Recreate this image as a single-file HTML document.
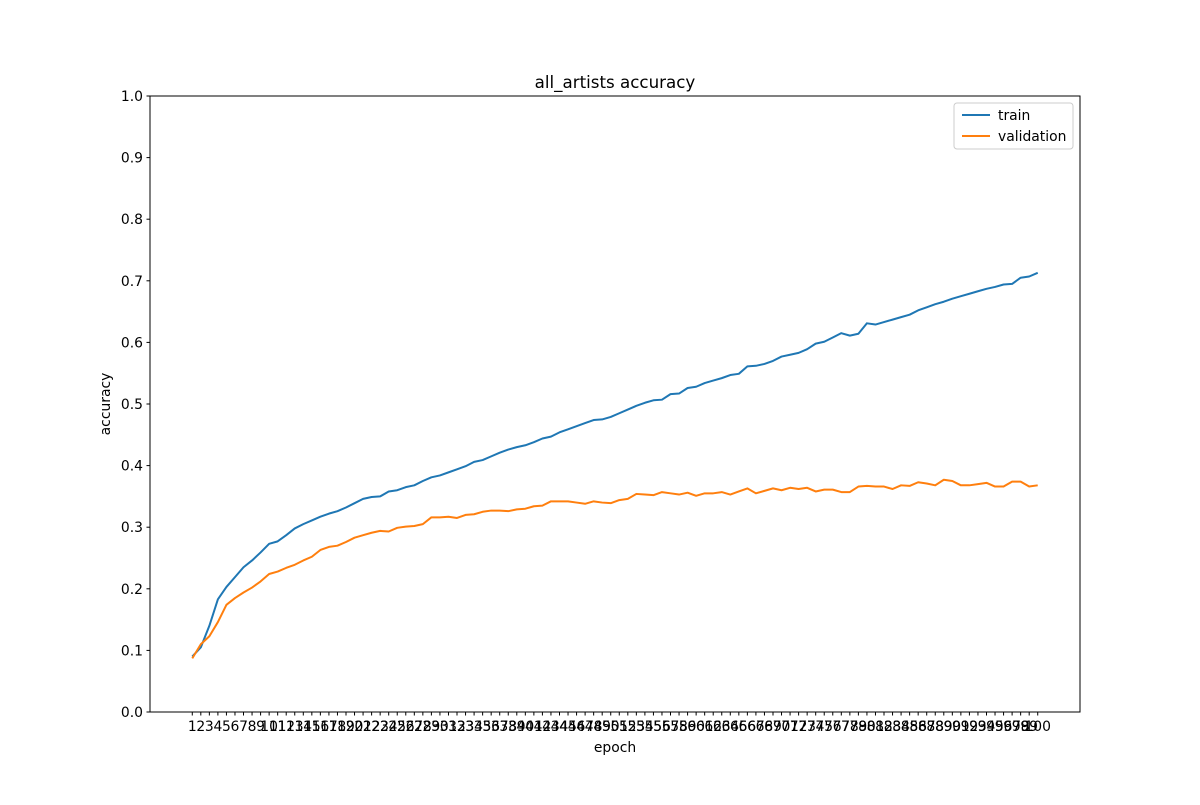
<!DOCTYPE html>
<html><head><meta charset="utf-8"><style>
html,body{margin:0;background:#fff}
svg text{font-family:"DejaVu Sans","Liberation Sans",sans-serif;font-size:13.9px;fill:#000}
</style></head><body>
<svg id="c" width="1200" height="800" xmlns="http://www.w3.org/2000/svg">
<rect width="1200" height="800" fill="#fff"/>
<text x="615" y="88" text-anchor="middle" style="font-size:16.7px">all_artists accuracy</text>
<g id="grid"></g>
<rect x="150" y="96" width="930" height="616" fill="none" stroke="#000" stroke-width="1"/>
<text x="615" y="752" text-anchor="middle">epoch</text>
<text transform="translate(110,404) rotate(-90)" text-anchor="middle">accuracy</text>
<g>
<rect x="954" y="103" width="119" height="46" rx="3" fill="#fff" stroke="#ccc"/>
<line x1="962" y1="115" x2="990" y2="115" stroke="#1f77b4" stroke-width="2"/>
<text x="998" y="120">train</text>
<line x1="962" y1="136" x2="990" y2="136" stroke="#ff7f0e" stroke-width="2"/>
<text x="998" y="141">validation</text>
</g>
</svg>
<script>
const epochs = Array.from({length:100},(_,i)=>String(i+1));
const yTicks = [0,0.1,0.2,0.3,0.4,0.5,0.6,0.7,0.8,0.9,1.0];
const trainAcc = [0.09,0.105,0.14,0.183,0.203,0.219,0.235,0.246,0.259,0.273,0.277,0.287,0.298,0.305,0.311,0.317,0.322,0.326,0.332,0.339,0.346,0.349,0.350,0.358,0.360,0.365,0.368,0.375,0.381,0.384,0.389,0.394,0.399,0.406,0.409,0.415,0.421,0.426,0.430,0.433,0.438,0.444,0.447,0.454,0.459,0.464,0.469,0.474,0.475,0.479,0.485,0.491,0.497,0.502,0.506,0.507,0.516,0.517,0.526,0.528,0.534,0.538,0.542,0.547,0.549,0.561,0.562,0.565,0.570,0.577,0.580,0.583,0.589,0.598,0.601,0.608,0.615,0.611,0.614,0.631,0.629,0.633,0.637,0.641,0.645,0.652,0.657,0.662,0.666,0.671,0.675,0.679,0.683,0.687,0.690,0.694,0.695,0.705,0.707,0.713];
const valAcc = [0.087,0.11,0.123,0.146,0.174,0.185,0.194,0.202,0.212,0.224,0.228,0.234,0.239,0.246,0.252,0.263,0.268,0.270,0.276,0.283,0.287,0.291,0.294,0.293,0.299,0.301,0.302,0.305,0.316,0.316,0.317,0.315,0.320,0.321,0.325,0.327,0.327,0.326,0.329,0.330,0.334,0.335,0.342,0.342,0.342,0.340,0.338,0.342,0.340,0.339,0.344,0.346,0.354,0.353,0.352,0.357,0.355,0.353,0.356,0.351,0.355,0.355,0.357,0.353,0.358,0.363,0.355,0.359,0.363,0.360,0.364,0.362,0.364,0.358,0.361,0.361,0.357,0.357,0.366,0.367,0.366,0.366,0.362,0.368,0.367,0.373,0.371,0.368,0.377,0.375,0.368,0.368,0.370,0.372,0.366,0.366,0.374,0.374,0.366,0.368];

const L=150,R=1080,T=96,B=712;
const n=epochs.length;
const step=(R-L)/((n-1)*1.1);
const xs=i=>L+(n-1)*0.05*step+i*step;
const ys=v=>B-(v-0)/(1-0)*(B-T);
const NS='http://www.w3.org/2000/svg';
const g=document.getElementById('grid');
function mk(tag,attrs){const e=document.createElementNS(NS,tag);for(const k in attrs)e.setAttribute(k,attrs[k]);return e;}
yTicks.forEach(v=>{
  const y=ys(v);
  const t=mk('line',{x1:L-3.5,x2:L,y1:y,y2:y,stroke:'#000'});
  
  
  g.appendChild(t);
  const lb=mk('text',{x:L-7,y:y+5,'text-anchor':'end'});
  lb.textContent=v.toFixed(1);
  
  
  g.appendChild(lb);
});
epochs.forEach((e,i)=>{
  const x=xs(i);
  const t=mk('line',{x1:x,x2:x,y1:B,y2:B+3.5,stroke:'#000'});
  
  
  g.appendChild(t);
  const lb=mk('text',{x:x,y:B+19,'text-anchor':'middle'});
  lb.textContent=e;
  
  
  g.appendChild(lb);
});
function line(data,color,name){
  const p=mk('polyline',{points:data.map((v,i)=>xs(i)+','+ys(v)).join(' '),fill:'none',stroke:color,'stroke-width':2,'stroke-linejoin':'round'});
  
  
  g.appendChild(p);
}
line(trainAcc,'#1f77b4','train-line');
line(valAcc,'#ff7f0e','validation-line');
</script>
</body></html>
